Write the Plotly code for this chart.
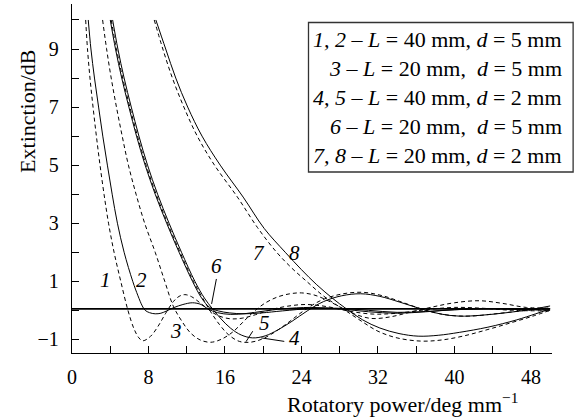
import plotly.graph_objects as go

# ---- data ----
c1_x = [1.43, 1.62, 1.88, 2.2, 2.55, 2.93, 3.35, 3.82, 4.4, 5.1, 5.85, 6.5, 7.0, 7.4, 8.2, 9.0, 9.8, 10.6, 11.2, 11.8, 12.5, 13.3, 14.2, 15.2, 16.5, 17.8, 19.2, 20.8, 22.5, 24.5, 26.8, 29, 31.5, 34, 37, 40, 43, 46, 50]
c1_y = [10, 9, 8, 7, 6, 5, 4, 3, 2, 1, 0, -0.65, -0.95, -1.05, -0.9, -0.55, -0.1, 0.3, 0.48, 0.54, 0.47, 0.28, 0.05, -0.17, -0.29, -0.27, -0.15, 0.02, 0.14, 0.2, 0.12, -0.03, -0.13, -0.1, 0.02, 0.1, 0.07, 0.0, -0.02]

c2_x = [1.7, 1.98, 2.35, 2.78, 3.22, 3.7, 4.2, 4.75, 5.45, 6.35, 6.9, 7.35, 7.65, 8.1, 8.7, 9.3, 9.9, 10.7, 11.6, 12.6, 13.5, 14.2, 15.2, 16.6, 18.2, 20, 22, 25, 28, 31, 34, 37, 40, 44, 47, 50]
c2_y = [10, 9, 8, 7, 6, 5, 4, 3, 2, 1, 0.5, 0.15, 0.0, -0.08, -0.12, -0.1, -0.02, 0.1, 0.2, 0.26, 0.2, 0.05, -0.08, -0.14, -0.11, -0.03, 0.05, 0.1, 0.05, -0.05, -0.1, -0.05, 0.02, 0.06, 0.03, 0.05]

c3_x = [3.2, 3.62, 4.1, 4.65, 5.25, 5.9, 6.7, 7.6, 8.7, 9.7, 10.6, 11.5, 12.4, 13.4, 14.5, 15.6, 16.8, 17.9, 19, 20.2, 21.5, 22.8, 24, 25.3, 26.6, 28, 29.5, 31.3, 33.2, 35.3, 37.5, 40, 42.6, 45, 47.5, 50]
c3_y = [10, 9, 8, 7, 6, 5, 4, 3, 2, 1, 0.14, -0.38, -0.78, -1.02, -1.1, -1.0, -0.75, -0.4, -0.05, 0.25, 0.46, 0.57, 0.6, 0.53, 0.36, 0.12, -0.12, -0.28, -0.23, -0.07, 0.1, 0.26, 0.33, 0.24, 0.1, 0.08]

c4_x = [4.25, 4.8, 5.45, 6.2, 7.0, 7.9, 8.95, 10.15, 11.45, 12.85, 13.85, 14.7, 15.6, 16.6, 17.7, 18.9, 20.2, 21.5, 23, 24.6, 26.3, 28.2, 30.2, 32.2, 34.3, 36.7, 38.6, 40.5, 42.8, 45.5, 48, 50]
c4_y = [10, 9, 8, 7, 6, 5, 4, 3, 2, 1, 0.42, 0.05, -0.3, -0.62, -0.85, -0.95, -0.88, -0.68, -0.38, -0.02, 0.3, 0.5, 0.57, 0.48, 0.28, 0.03, -0.13, -0.2, -0.17, -0.08, 0.03, 0.15]

c5_x = [4.1, 4.65, 5.3, 6.05, 6.85, 7.75, 8.8, 10.0, 11.3, 12.7, 13.7, 14.5, 15.4, 16.4, 17.5, 18.6, 19.8, 21.2, 22.7, 24.3, 26.1, 28.2, 30.4, 32.5, 34.6, 37, 39.2, 41.5, 44, 47, 50]
c5_y = [10, 9, 8, 7, 6, 5, 4, 3, 2, 1, 0.4, -0.05, -0.48, -0.85, -1.07, -1.1, -1.0, -0.75, -0.4, 0.0, 0.35, 0.56, 0.62, 0.5, 0.27, 0.0, -0.16, -0.2, -0.13, -0.02, 0.05]

c6_x = [4.0, 4.55, 5.2, 5.95, 6.75, 7.65, 8.7, 9.9, 11.2, 12.6, 13.6, 14.4, 15.3, 16.5, 18, 19.8, 22, 25, 28, 31, 34, 37, 40, 44, 47, 50]
c6_y = [10, 9, 8, 7, 6, 5, 4, 3, 2, 1, 0.4, 0.1, -0.02, -0.09, -0.12, -0.09, -0.02, 0.06, 0.07, 0.0, -0.07, -0.04, 0.02, 0.05, 0.03, 0.0]

c7_x = [8.6, 9.5, 10.5, 11.7, 13.1, 14.9, 17.3, 19.4, 21.4, 23.0, 24.6, 26.2, 27.5, 28.7, 30.3, 32, 34, 36.5, 38.7, 41, 43.5, 46, 48.2, 50]
c7_y = [10, 9, 8, 7, 6, 5, 3.9, 2.85, 2.0, 1.45, 0.98, 0.52, 0.22, -0.03, -0.38, -0.72, -0.95, -1.06, -1.02, -0.88, -0.66, -0.42, -0.2, 0.0]

c8_x = [8.77, 9.8, 10.85, 12.1, 13.6, 15.5, 17.9, 20.1, 22.3, 24, 25.6, 27.3, 28.7, 30.4, 32.2, 34.2, 36.2, 38.3, 40.5, 43.5, 46.5, 48.5, 50]
c8_y = [10, 9, 8, 7, 6, 5, 3.9, 2.82, 2.0, 1.4, 0.88, 0.4, 0.05, -0.33, -0.61, -0.8, -0.89, -0.86, -0.76, -0.58, -0.33, -0.12, 0.05]

baseline = 0.05

label_text = ["1", "2", "3", "4", "5", "6", "7", "8"]
label_x = [3.55, 7.27, 10.9, 23.3, 20.1, 15.1, 19.6, 23.3]
label_y = [1.06, 1.06, -0.72, -0.97, -0.43, 1.52, 1.98, 1.98]

# leader lines (x0, y0, x1, y1) for labels 4, 5, 6
leaders = [(22.2, -1.07, 19.8, -0.95), (18.9, -0.72, 18.2, -1.08), (15.1, 1.08, 14.6, 0.22)]

legend_lines = [
    "<i>1, 2</i> – <i>L</i> = 40 mm, <i>d</i> = 5 mm",
    "<i>3</i> – <i>L</i> = 20 mm,  <i>d</i> = 5 mm",
    "<i>4, 5</i> – <i>L</i> = 40 mm, <i>d</i> = 2 mm",
    "<i>6</i> – <i>L</i> = 20 mm,  <i>d</i> = 5 mm",
    "<i>7, 8</i> – <i>L</i> = 20 mm, <i>d</i> = 2 mm",
]

x_tickvals = [0, 8, 16, 24, 32, 40, 48]
y_tickvals = [-1, 1, 3, 5, 7, 9]
y_ticktext = ["−1", "1", "3", "5", "7", "9"]

FONT = "Times New Roman, Liberation Serif, DejaVu Serif, serif"
DASH = "4px,3px"

curves = [
    (c1_x, c1_y, DASH), (c2_x, c2_y, "solid"), (c3_x, c3_y, DASH), (c4_x, c4_y, "solid"),
    (c5_x, c5_y, DASH), (c6_x, c6_y, "solid"), (c7_x, c7_y, DASH), (c8_x, c8_y, "solid"),
]

fig = go.Figure()
fig.add_trace(go.Scatter(x=[0, 50], y=[baseline, baseline], mode="lines",
                         line=dict(color="black", width=1.8), hoverinfo="skip"))
for xs, ys, dash in curves:
    fig.add_trace(go.Scatter(x=xs, y=ys, mode="lines",
                             line=dict(color="black", width=1, dash=dash, shape="spline", smoothing=1.0)))

for t, x, y in zip(label_text, label_x, label_y):
    fig.add_annotation(x=x, y=y, text="<i>" + t + "</i>", showarrow=False,
                       font=dict(family=FONT, size=21, color="black"))
for x0, y0, x1, y1 in leaders:
    fig.add_shape(type="line", x0=x0, y0=y0, x1=x1, y1=y1, xref="x", yref="y",
                  line=dict(color="black", width=1))

# legend box
fig.add_shape(type="rect", xref="paper", yref="paper", x0=0.4927, x1=1.044, y0=0.5186, y1=0.947,
              line=dict(color="#333", width=1.3), fillcolor="white", layer="above")
legend_y = [0.8977, 0.8138, 0.7307, 0.6476, 0.5662]
for t, yy in zip(legend_lines, legend_y):
    fig.add_annotation(xref="paper", yref="paper", x=1.025, y=yy, xanchor="right", yanchor="middle",
                       text=t, showarrow=False, font=dict(family=FONT, size=22, color="black"))

fig.add_annotation(xref="paper", yref="paper", x=0.9335, y=-0.142, xanchor="right", yanchor="middle",
                   text="Rotatory power/deg mm<sup>−1</sup>", showarrow=False,
                   font=dict(family=FONT, size=22, color="black"))
fig.add_annotation(xref="paper", yref="paper", x=-0.0915, y=0.691, xanchor="center", yanchor="middle",
                   text="Extinction/dB", textangle=-90, showarrow=False,
                   font=dict(family=FONT, size=22, color="black"))

fig.update_layout(
    width=578, height=419, margin=dict(l=72, r=26, t=4, b=66),
    paper_bgcolor="white", plot_bgcolor="white", showlegend=False,
    font=dict(family=FONT, size=20, color="black"),
)
fig.update_xaxes(range=[0, 50.2], showline=True, linecolor="black", linewidth=1.3,
                 ticks="inside", ticklen=7, tickwidth=1.2, tickcolor="black",
                 tickvals=x_tickvals, showgrid=False, zeroline=False,
                 minor=dict(dtick=4, tick0=0, ticks="inside", ticklen=7, tickwidth=1.2, tickcolor="black", showgrid=False),
                 ticklabelstandoff=6, tickfont=dict(family=FONT, size=20))
fig.update_yaxes(range=[-1.47, 10.55], showline=True, linecolor="black", linewidth=1.3,
                 ticks="inside", ticklen=7, tickwidth=1.2, tickcolor="black",
                 tickvals=y_tickvals, ticktext=y_ticktext, showgrid=False, zeroline=False,
                 minor=dict(dtick=1, tick0=0, ticks="inside", ticklen=7, tickwidth=1.2, tickcolor="black", showgrid=False),
                 ticklabelstandoff=8, tickfont=dict(family=FONT, size=20))

fig.write_html("out.html")
